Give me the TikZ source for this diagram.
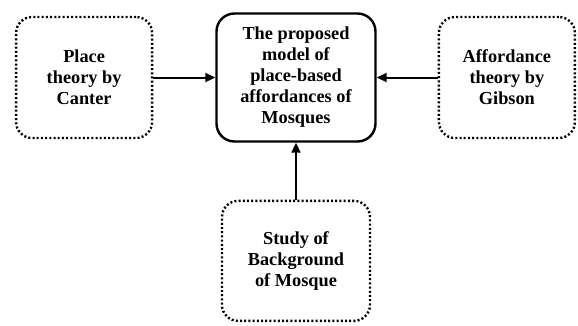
\documentclass[tikz,border=0pt]{standalone}
\usepackage{fontspec}
\setmainfont{Liberation Serif}
\usetikzlibrary{arrows.meta,positioning}

\begin{document}
\begin{tikzpicture}[
  x=1pt, y=1pt,
  every node/.style={font=\bfseries\fontsize{18.3}{21}\selectfont, align=center},
  srcbox/.style={draw=black, line width=2.4pt, dash pattern=on 2pt off 2.2pt, rounded corners=16pt, minimum width=136pt, minimum height=121pt},
  mainbox/.style={draw=black, line width=2.4pt, rounded corners=18pt, minimum width=159pt, minimum height=128pt},
  arrow/.style={-{Triangle[length=10pt, width=9pt]}, line width=2pt}
]
  \useasboundingbox (-296,-247.5) rectangle (282,77.5);
  % Nodes
  \node (model) [mainbox] at (0,0) {The proposed\\model of\\place-based\\affordances of\\Mosques};
  \node (canter) [srcbox, left=62pt of model] {Place\\theory by\\Canter};
  \node (gibson) [srcbox, right=61pt of model] {Affordance\\theory by\\Gibson};
  \node (mosque) [srcbox, below=57pt of model, minimum width=148pt, minimum height=120pt] {Study of\\Background\\of Mosque};

  % Paths
  \draw [arrow] (canter) -- (model);
  \draw [arrow] (gibson) -- (model);
  \draw [arrow] (mosque) -- (model);
\end{tikzpicture}
\end{document}
